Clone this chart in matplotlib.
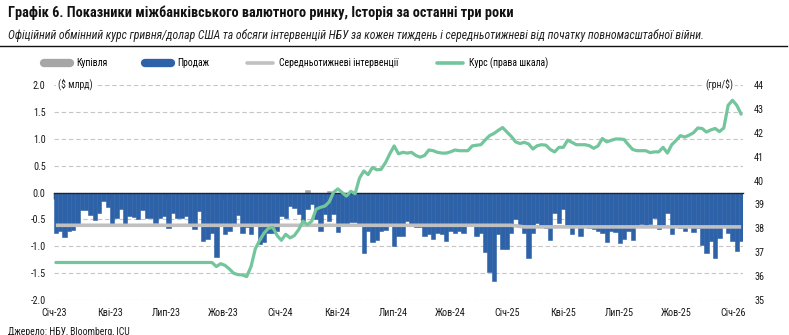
import matplotlib
matplotlib.use("Agg")
import matplotlib.pyplot as plt
from matplotlib.lines import Line2D
from matplotlib.ticker import FormatStrFormatter
from matplotlib import font_manager
import matplotlib.dates as mdates
import pandas as pd

installed = {f.name for f in font_manager.fontManager.ttflist}
NARROW_CHOICES = ["Liberation Sans Narrow", "Arial Narrow", "Roboto Condensed",
                  "PT Sans Narrow", "IBM Plex Sans Condensed",
                  "Fira Sans Condensed", "Archivo Narrow", "Liberation Sans"]
FONT = next(f for f in NARROW_CHOICES + ["DejaVu Sans"] if f in installed or f == "DejaVu Sans")
plt.rcParams["font.family"] = [FONT, "DejaVu Sans"]
plt.rcParams["axes.unicode_minus"] = False

# ---- weekly data -------------------------------------------------------
weeks = pd.date_range("2023-01-04", periods=159, freq="7D")

# NBU FX sales per week, $ bn (negative = sales)
sales = [
    -0.75, -0.72, -0.83, -0.72, -0.69, -0.63, -0.32, -0.33, -0.42, -0.52,
    -0.39, -0.16, -0.27, -0.60, -0.47, -0.30, -0.59, -0.43, -0.45, -0.50,
    -0.33, -0.48, -0.47, -0.57, -0.48, -0.44, -0.66, -0.38, -0.48, -0.48,
    -0.43, -0.60, -0.68, -0.34, -0.90, -0.87, -0.75, -1.20, -0.63, -0.77,
    -0.72, -0.63, -0.42, -0.75, -0.65, -0.78, -0.63, -0.95, -0.92, -0.75,
    -0.75, -0.72, -0.44, -0.47, -0.25, -0.28, -0.40, -0.53, -0.31, -0.22,
    -0.50, -0.72, -0.40, -0.53, -0.40, -0.73, -0.59, -0.59, -0.55, -0.55,
    -0.59, -1.12, -0.72, -0.93, -0.88, -0.72, -0.69, -0.59, -1.00, -0.81,
    -0.81, -0.53, -0.59, -0.65, -0.65, -0.81, -0.78, -0.86, -0.75, -0.78,
    -0.91, -0.71, -0.75, -0.72, -0.75, -0.62, -0.62, -0.80, -0.75, -1.11,
    -1.47, -1.65, -0.78, -1.06, -1.05, -0.75, -0.50, -0.60, -0.75, -1.22,
    -0.75, -0.57, -0.60, -0.66, -0.88, -0.38, -0.57, -0.30, -0.60, -0.78,
    -0.64, -0.80, -0.64, -0.66, -0.68, -0.72, -0.75, -0.92, -0.71, -0.73,
    -0.94, -0.86, -0.72, -0.89, -0.60, -0.59, -0.60, -0.59, -0.47, -0.68,
    -0.60, -0.38, -0.77, -0.65, -0.66, -0.72, -0.63, -0.73, -0.66, -0.97,
    -1.12, -0.91, -1.22, -0.85, -0.63, -0.75, -0.91, -1.09, -0.91,
]

# NBU FX purchases per week, $ bn
purchases = [
    0.0, 0.0, 0.0, 0.0, 0.0, 0.0, 0.0, 0.0, 0.0, 0.0,
    0.0, 0.0, 0.0, 0.0, 0.0, 0.0, 0.0, 0.0, 0.0, 0.0,
    0.0, 0.0, 0.0, 0.0, 0.0, 0.0, 0.0, 0.0, 0.0, 0.0,
    0.0, 0.0, 0.0, 0.0, 0.0, 0.0, 0.0, 0.0, 0.0, 0.0,
    0.0, 0.0, 0.0, 0.0, 0.0, 0.0, 0.0, 0.0, 0.0, 0.0,
    0.0, 0.0, 0.0, 0.0, 0.0, 0.0, 0.0, 0.0, 0.04, 0.0,
    0.0, 0.0, 0.0, 0.03, 0.0, 0.0, 0.0, 0.0, 0.0, 0.0,
    0.0, 0.0, 0.0, 0.0, 0.0, 0.0, 0.0, 0.0, 0.0, 0.0,
    0.0, 0.0, 0.0, 0.0, 0.0, 0.0, 0.0, 0.0, 0.0, 0.0,
    0.0, 0.0, 0.0, 0.0, 0.0, 0.0, 0.0, 0.0, 0.0, 0.0,
    0.0, 0.0, 0.0, 0.0, 0.0, 0.0, 0.0, 0.0, 0.0, 0.0,
    0.0, 0.0, 0.0, 0.0, 0.0, 0.0, 0.0, 0.0, 0.0, 0.0,
    0.0, 0.0, 0.0, 0.0, 0.0, 0.0, 0.0, 0.0, 0.0, 0.0,
    0.0, 0.0, 0.0, 0.0, 0.0, 0.0, 0.0, 0.0, 0.0, 0.0,
    0.0, 0.0, 0.0, 0.0, 0.0, 0.0, 0.0, 0.0, 0.0, 0.0,
    0.0, 0.0, 0.0, 0.0, 0.0, 0.0, 0.0, 0.0, 0.0,
]

# average weekly net interventions since the start of the full-scale war, $ bn
avg_interventions = [
    -0.61, -0.61, -0.61, -0.61, -0.61, -0.61, -0.61, -0.61, -0.61, -0.61,
    -0.61, -0.61, -0.61, -0.61, -0.61, -0.61, -0.61, -0.61, -0.61, -0.61,
    -0.61, -0.61, -0.61, -0.61, -0.61, -0.61, -0.61, -0.61, -0.61, -0.61,
    -0.61, -0.61, -0.61, -0.61, -0.61, -0.61, -0.61, -0.61, -0.61, -0.61,
    -0.61, -0.61, -0.61, -0.61, -0.61, -0.61, -0.61, -0.61, -0.61, -0.61,
    -0.61, -0.61, -0.61, -0.61, -0.61, -0.61, -0.61, -0.61, -0.61, -0.61,
    -0.61, -0.61, -0.61, -0.61, -0.61, -0.61, -0.61, -0.61, -0.61, -0.61,
    -0.61, -0.61, -0.61, -0.61, -0.61, -0.61, -0.61, -0.61, -0.61, -0.61,
    -0.61, -0.61, -0.61, -0.61, -0.61, -0.61, -0.61, -0.61, -0.61, -0.61,
    -0.61, -0.61, -0.61, -0.61, -0.61, -0.61, -0.61, -0.61, -0.61, -0.61,
    -0.61, -0.61, -0.61, -0.61, -0.61, -0.61, -0.62, -0.63, -0.64, -0.64,
    -0.64, -0.64, -0.64, -0.64, -0.64, -0.64, -0.64, -0.64, -0.64, -0.64,
    -0.64, -0.64, -0.64, -0.64, -0.64, -0.64, -0.64, -0.64, -0.64, -0.64,
    -0.64, -0.64, -0.64, -0.64, -0.64, -0.64, -0.64, -0.64, -0.64, -0.64,
    -0.64, -0.64, -0.64, -0.64, -0.64, -0.64, -0.64, -0.64, -0.64, -0.64,
    -0.64, -0.64, -0.64, -0.64, -0.64, -0.64, -0.64, -0.64, -0.64,
]

# official UAH/USD rate
uah_usd = [
    36.57, 36.57, 36.57, 36.57, 36.57, 36.57, 36.57, 36.57, 36.57, 36.57,
    36.57, 36.57, 36.57, 36.57, 36.57, 36.57, 36.57, 36.57, 36.57, 36.57,
    36.57, 36.57, 36.57, 36.57, 36.57, 36.57, 36.57, 36.57, 36.57, 36.57,
    36.57, 36.57, 36.57, 36.57, 36.57, 36.57, 36.57, 36.40, 36.52, 36.45,
    36.30, 36.12, 36.06, 36.05, 35.98, 36.40, 37.15, 37.50, 37.80, 38.00,
    38.05, 37.70, 37.50, 37.75, 37.60, 37.70, 37.95, 38.30, 38.15, 38.30,
    38.80, 38.88, 38.93, 39.10, 39.50, 39.65, 39.50, 39.35, 39.55, 39.45,
    40.10, 40.40, 40.25, 40.55, 40.45, 40.47, 40.75, 41.12, 41.45, 41.12,
    41.18, 41.15, 41.18, 41.05, 40.98, 41.05, 41.28, 41.25, 41.18, 41.15,
    41.15, 41.20, 41.28, 41.25, 41.25, 41.25, 41.45, 41.48, 41.50, 41.70,
    41.88, 41.97, 42.10, 42.22, 42.03, 41.85, 41.62, 41.55, 41.60, 41.53,
    41.32, 41.46, 41.50, 41.48, 41.30, 41.20, 41.39, 41.39, 41.69, 41.60,
    41.50, 41.50, 41.50, 41.46, 41.35, 41.45, 41.76, 41.62, 41.68, 41.74,
    41.74, 41.72, 41.50, 41.30, 41.25, 41.25, 41.25, 41.17, 41.20, 41.20,
    41.39, 41.15, 41.50, 41.68, 41.88, 41.82, 41.90, 42.00, 42.20, 42.18,
    42.03, 42.12, 42.18, 42.05, 42.20, 43.15, 43.36, 43.15, 42.78,
]

tick_dates = pd.to_datetime([
    "2023-01-01", "2023-04-01", "2023-07-01", "2023-10-01",
    "2024-01-01", "2024-04-01", "2024-07-01", "2024-10-01",
    "2025-01-01", "2025-04-01", "2025-07-01", "2025-10-01", "2026-01-01",
])
tick_labels = ["Січ-23", "Кві-23", "Лип-23", "Жов-23", "Січ-24", "Кві-24",
               "Лип-24", "Жов-24", "Січ-25", "Кві-25", "Лип-25", "Жов-25",
               "Січ-26"]
left_ticks = [-2.0, -1.5, -1.0, -0.5, 0.0, 0.5, 1.0, 1.5, 2.0]
right_ticks = [35, 36, 37, 38, 39, 40, 41, 42, 43, 44]

legend_labels = ["Купівля", "Продаж", "Середньотижневі інтервенції",
                 "Курс (права шкала)"]
title = "Графік 6. Показники міжбанківського валютного ринку, Історія за останні три роки"
subtitle = ("Офіційний обмінний курс гривня/долар США та обсяги інтервенцій НБУ "
            "за кожен тиждень і середньотижневі від початку повномасштабної війни.")

# ---- style -------------------------------------------------------------
BLUE = "#2e62a8"
PURCHASE = "#a6a6a6"
AVG = "#c0c0c0"
GREEN = "#73c59c"
TEXT = "#1a1a1a"
GRID = "#c6c6c6"

W, H = 789, 335
fig = plt.figure(figsize=(W / 100, H / 100), dpi=100)
renderer = fig.canvas.get_renderer()


def fx(px):
    return px / W


def fy(py):
    return 1 - py / H


def size_for_width(text, width_px, **kw):
    """Font size at which `text` spans `width_px` pixels."""
    probe = fig.text(0, 0, text, fontsize=10, **kw)
    w = probe.get_window_extent(renderer).width
    probe.remove()
    return 10 * width_px / w


SMALL = size_for_width(legend_labels[2], 119)
TICK = SMALL * 1.04

ax = fig.add_axes([fx(54), fy(300), fx(743) - fx(54), fy(85) - fy(300)])

ax.bar(weeks, sales, width=7, color=BLUE, edgecolor=BLUE, linewidth=0.4,
       zorder=2)
ax.bar(weeks, purchases, width=7, color=PURCHASE, edgecolor=PURCHASE,
       linewidth=0.4, zorder=2)
ax.plot(weeks, avg_interventions, color=AVG, lw=2.6, zorder=3,
        solid_capstyle="butt")

ax.set_ylim(-2, 2)
ax.set_xlim(pd.Timestamp("2023-01-01"), pd.Timestamp("2026-01-17"))
ax.set_yticks(left_ticks)
ax.yaxis.set_major_formatter(FormatStrFormatter("%.1f"))
ax.tick_params(axis="y", length=0, pad=6, labelsize=TICK, labelcolor=TEXT)
ax.yaxis.grid(True, linestyle=(0, (4, 2.5)), color=GRID, lw=0.8)
ax.set_axisbelow(True)

for side in ("top", "left", "right"):
    ax.spines[side].set_visible(False)
ax.spines["bottom"].set_position(("data", 0))
ax.spines["bottom"].set_color("#1c2333")
ax.spines["bottom"].set_linewidth(1.0)
ax.spines["bottom"].set_zorder(4)
ax.set_xticks(tick_dates)
ax.tick_params(axis="x", length=4, width=1.0, direction="out",
               color="#1c2333", labelbottom=False)

sec = ax.secondary_xaxis("bottom")
sec.set_xticks(mdates.date2num(tick_dates), tick_labels)
sec.tick_params(length=0, pad=6, labelsize=TICK, labelcolor=TEXT)
sec.spines["bottom"].set_visible(False)

ax2 = ax.twinx()
ax2.plot(weeks, uah_usd, color=GREEN, lw=2.3, solid_joinstyle="round",
         solid_capstyle="round", zorder=5)
ax2.set_ylim(35, 44)
ax2.set_yticks(right_ticks)
ax2.tick_params(axis="y", length=0, pad=8, labelsize=TICK, labelcolor=TEXT)
for side in ("top", "left", "right", "bottom"):
    ax2.spines[side].set_visible(False)

# axis unit labels
fig.text(fx(58), fy(84), "($ млрд)", fontsize=SMALL, color=TEXT, ha="left",
         va="center", bbox=dict(fc="white", ec="none", pad=1.5))
fig.text(fx(733), fy(84), "(грн/$)", fontsize=SMALL, color=TEXT, ha="right",
         va="center", bbox=dict(fc="white", ec="none", pad=1.5))

# titles
title_size = size_for_width(title, 505, fontweight="bold")
fig.text(fx(8), fy(13), title, fontsize=title_size, fontweight="bold",
         color="#111111", ha="left", va="center")
sub_size = size_for_width(subtitle, 697, fontstyle="italic")
fig.text(fx(8), fy(35), subtitle, fontsize=sub_size, fontstyle="italic",
         color="#222222", ha="left", va="center")
fig.add_artist(Line2D([fx(0), fx(787)], [fy(46), fy(46)], color="#111111",
                      lw=1.0))

# legend
handles = [
    Line2D([], [], color=PURCHASE, lw=6, solid_capstyle="round"),
    Line2D([], [], color=BLUE, lw=6, solid_capstyle="round"),
    Line2D([], [], color=AVG, lw=2.6, solid_capstyle="round"),
    Line2D([], [], color=GREEN, lw=2.6, solid_capstyle="round"),
]
em = SMALL * 100 / 72
fig.legend(handles, legend_labels, loc="center left",
           bbox_to_anchor=(fx(44), fy(63)), ncol=4, frameon=False,
           fontsize=SMALL, handlelength=26 / em, handletextpad=6 / em,
           columnspacing=38 / em, borderpad=0, borderaxespad=0)

# source
fig.text(fx(8), fy(327), "Джерело: НБУ, Bloomberg, ICU", fontsize=SMALL,
         color=TEXT, ha="left", va="top")

fig.savefig("out.png", dpi=100)
